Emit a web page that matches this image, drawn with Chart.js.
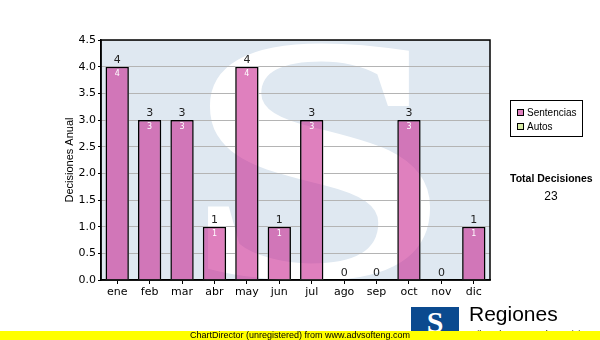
<!DOCTYPE html>
<html>
<head>
<meta charset="utf-8">
<script src="https://cdn.jsdelivr.net/npm/chart.js@4"></script>
<style>
  body { margin: 0; width: 600px; height: 340px; overflow: hidden; position: relative; background: #fff; font-family: "Liberation Sans", Arial, sans-serif; }
  #chartDecisiones { position: absolute; left: 0; top: 0; }
  .abs { position: absolute; white-space: nowrap; }
  #leyenda { left: 510px; top: 100px; width: 73px; height: 37px; border: 1px solid #000; box-sizing: border-box; background: #fff; }
  .cuadro { position: absolute; width: 7px; height: 7px; border: 1px solid #000; box-sizing: border-box; }
  .ley-txt { position: absolute; font-size: 10px; line-height: 13px; color: #000; }
  #totalTit { left: 510px; top: 171px; font-size: 10.5px; font-weight: bold; line-height: 14px; }
  #totalNum { left: 510px; width: 82px; top: 189px; font-size: 12px; line-height: 14px; text-align: center; }
  #franja { left: 0; top: 331px; width: 600px; height: 9px; background: #ffff00; z-index: 3; font-size: 9px; line-height: 9px; text-align: center; color: #000; }
  #logo { left: 411px; top: 307px; width: 48px; height: 26px; background: #0b4a8f; color: #fff; font: bold 30px "Liberation Serif", serif; line-height: 30px; text-align: center; overflow: hidden; }
  #regiones { left: 469px; top: 302px; font-size: 21px; line-height: 24px; color: #000; }
  #tribunal { left: 469px; top: 329px; font-size: 9px; line-height: 10px; color: #000; }
</style>
</head>
<body>
<canvas id="chartDecisiones" width="600" height="340"></canvas>

<div id="leyenda" class="abs">
  <div class="cuadro" style="left:6px;top:8px;background:#df80be"></div>
  <div class="ley-txt" style="left:16px;top:5px">Sentencias</div>
  <div class="cuadro" style="left:6px;top:22px;background:#d8eca6"></div>
  <div class="ley-txt" style="left:16px;top:19px">Autos</div>
</div>
<div id="totalTit" class="abs">Total Decisiones</div>
<div id="totalNum" class="abs"></div>

<div id="logo" class="abs">S</div>
<div id="regiones" class="abs">Regiones</div>
<div id="tribunal" class="abs">Tribunal Supremo de Justicia</div>
<div id="franja" class="abs">ChartDirector (unregistered) from www.advsofteng.com</div>

<script>
// datos
const meses = ['ene', 'feb', 'mar', 'abr', 'may', 'jun', 'jul', 'ago', 'sep', 'oct', 'nov', 'dic'];
const sentencias = [4, 3, 3, 1, 4, 1, 3, 0, 0, 3, 0, 1];
const autos = [0, 0, 0, 0, 0, 0, 0, 0, 0, 0, 0, 0];
const yMin = 0, yMax = 4.5, yPaso = 0.5;

const fondo = '#dfe8f1';

document.getElementById('totalNum').textContent =
  sentencias.reduce((s, v) => s + v, 0) + autos.reduce((s, v) => s + v, 0);

// fondo azul con la S blanca
function pintarFondo(chart) {
  const ctx = chart.ctx, a = chart.chartArea;
  ctx.save();
  ctx.beginPath();
  ctx.rect(a.left, a.top, a.right - a.left, a.bottom - a.top);
  ctx.clip();
  ctx.fillStyle = fondo;
  ctx.fillRect(a.left, a.top, a.right - a.left, a.bottom - a.top);
  ctx.font = 'bold 300px "Liberation Serif"';
  ctx.textAlign = 'left';
  ctx.textBaseline = 'alphabetic';
  const m = ctx.measureText('S');
  const w = m.actualBoundingBoxLeft + m.actualBoundingBoxRight;
  const h = m.actualBoundingBoxAscent + m.actualBoundingBoxDescent;
  ctx.translate(a.left + 104, a.top);
  ctx.scale(226 / w, 243 / h);
  ctx.fillStyle = '#fff';
  ctx.fillText('S', m.actualBoundingBoxLeft, m.actualBoundingBoxAscent);
  ctx.restore();
}

const marcaAgua = {
  id: 'marcaAgua',
  beforeDraw(chart) { pintarFondo(chart); },
  beforeDatasetsDraw(chart) {
    // quitar las lineas de la rejilla bajo las barras
    const ctx = chart.ctx;
    const meta = chart.getDatasetMeta(0);
    ctx.save();
    ctx.beginPath();
    meta.data.forEach(b => {
      if (b.base - b.y > 0.5) ctx.rect(b.x - b.width / 2, b.y, b.width, b.base - b.y);
    });
    ctx.clip();
    pintarFondo(chart);
    ctx.restore();
  },
  afterDatasetsDraw(chart) {
    const ctx = chart.ctx;
    const m0 = chart.getDatasetMeta(0), m1 = chart.getDatasetMeta(1);
    ctx.save();
    ctx.textAlign = 'center';
    m0.data.forEach((b, i) => {
      const top = Math.min(b.y, m1.data[i].y);
      ctx.fillStyle = '#222';
      ctx.font = '11px "DejaVu Sans"';
      ctx.textBaseline = 'bottom';
      ctx.fillText(String(sentencias[i] + autos[i]), b.x, top - 1);
      if (sentencias[i] > 0) {
        ctx.fillStyle = '#fff';
        ctx.font = '8px "DejaVu Sans"';
        ctx.textBaseline = 'top';
        ctx.fillText(String(sentencias[i]), b.x, b.y + 3);
      }
    });
    ctx.restore();
  },
  afterDraw(chart) {
    const ctx = chart.ctx, a = chart.chartArea;
    ctx.save();
    ctx.strokeStyle = '#000';
    ctx.lineWidth = 1.5;
    ctx.strokeRect(a.left, a.top, a.right - a.left, a.bottom - a.top);
    ctx.restore();
  }
};

new Chart(document.getElementById('chartDecisiones'), {
  type: 'bar',
  data: {
    labels: meses,
    datasets: [{
      label: 'Sentencias',
      data: sentencias,
      backgroundColor: 'rgba(197,24,137,0.55)',
      borderColor: '#000',
      borderWidth: 1.5,
      categoryPercentage: 1,
      barPercentage: 0.72
    }, {
      label: 'Autos',
      data: autos,
      backgroundColor: 'rgba(190,225,120,0.6)',
      borderColor: '#000',
      borderWidth: 1.5,
      categoryPercentage: 1,
      barPercentage: 0.72
    }]
  },
  options: {
    responsive: false,
    animation: false,
    layout: { padding: { left: 58, right: 110, top: 40, bottom: 30 } },
    plugins: { legend: { display: false }, tooltip: { enabled: false } },
    scales: {
      x: {
        stacked: true,
        grid: { drawOnChartArea: false, offset: false, tickLength: 4, color: '#000' },
        border: { color: '#000', width: 1.5 },
        ticks: { color: '#000', font: { family: 'DejaVu Sans', size: 11 }, padding: 2, maxRotation: 0 },
        afterFit(s) { s.height = 30; }
      },
      y: {
        stacked: true,
        min: yMin,
        max: yMax,
        ticks: {
          stepSize: yPaso,
          color: '#000',
          font: { family: 'DejaVu Sans', size: 11 },
          padding: 2,
          callback: v => v.toFixed(1)
        },
        grid: { color: '#b4b4b4', tickColor: '#000', tickLength: 3, lineWidth: 1 },
        border: { color: '#000', width: 1.5 },
        title: {
          display: true,
          text: 'Decisiones Anual',
          color: '#000',
          font: { family: 'Liberation Sans', size: 11 },
          padding: { top: 5, bottom: 0 }
        },
        afterFit(s) { s.width = 43; }
      }
    }
  },
  plugins: [marcaAgua]
});
</script>
</body>
</html>
